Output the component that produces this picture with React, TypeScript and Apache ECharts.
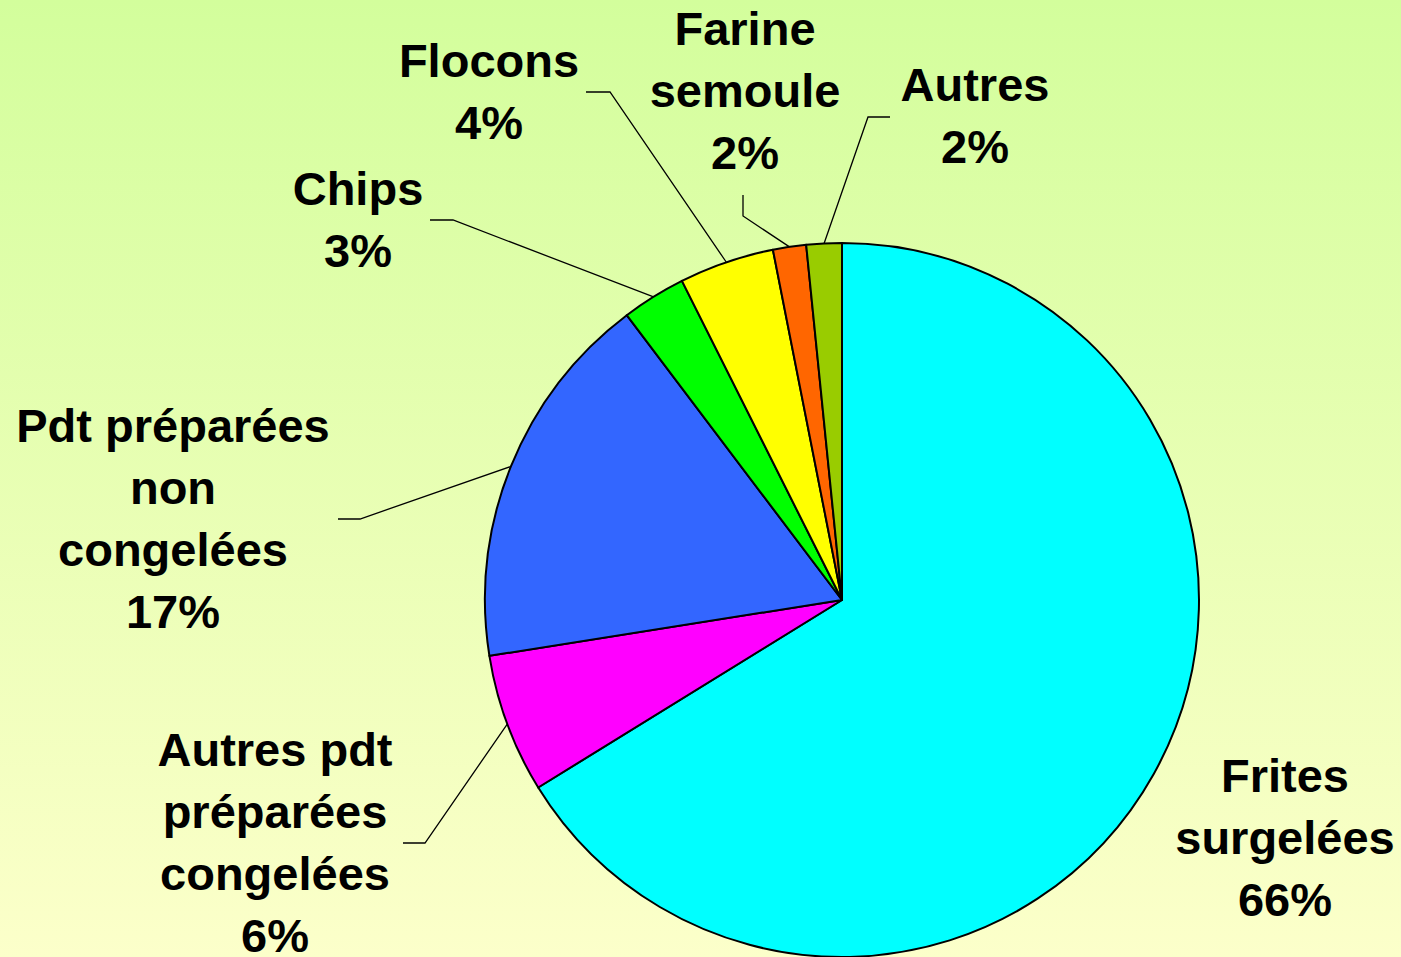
import React, { useEffect, useRef } from "react";
import * as echarts from "echarts";

const categories = [
  "Frites surgelées",
  "Autres pdt préparées congelées",
  "Pdt préparées non congelées",
  "Chips",
  "Flocons",
  "Farine semoule",
  "Autres",
];
const labelNames = [
  "Frites\nsurgelées",
  "Autres pdt\npréparées\ncongelées",
  "Pdt préparées\nnon\ncongelées",
  "Chips",
  "Flocons",
  "Farine\nsemoule",
  "Autres",
];
const values = [66.2, 6.3, 17.2, 2.9, 4.3, 1.5, 1.6];
const colors = ["#00ffff", "#ff00ff", "#3366ff", "#00ff00", "#ffff00", "#ff6600", "#99cc00"];

// label placement (styling)
const labelCenters: number[][] = [
  [1285, 837],
  [275, 842],
  [173, 518],
  [358, 219],
  [489, 91],
  [745, 90],
  [975, 115],
];
const labelElbows: (number[][] | null)[] = [
  null,
  [[425, 843], [403, 843]],
  [[360, 519], [338, 519]],
  [[453, 220], [430, 220]],
  [[610, 92], [586, 92]],
  [[743, 216], [743, 195]],
  [[868, 117], [890, 117]],
];

const CX = 842;
const CY = 600;
const R = 357;

export default function App() {
  const ref = useRef<HTMLDivElement>(null);
  useEffect(() => {
    document.body.style.margin = "0";
    const chart = echarts.init(ref.current!, undefined, { renderer: "svg" });
    const total = values.reduce((a, b) => a + b, 0);
    const edgePoint = (i: number) => {
      let cum = 0;
      for (let k = 0; k < i; k++) cum += values[k];
      const mid = ((cum + values[i] / 2) / total) * Math.PI * 2;
      return [CX + R * Math.sin(mid), CY - R * Math.cos(mid)];
    };
    chart.setOption({
      animation: false,
      backgroundColor: new echarts.graphic.LinearGradient(0, 0, 0, 1, [
        { offset: 0, color: "#d3fe9c" },
        { offset: 1, color: "#fcffca" },
      ]),
      series: [
        {
          type: "pie",
          center: [CX, CY],
          radius: R,
          startAngle: 90,
          clockwise: true,
          avoidLabelOverlap: false,
          itemStyle: { borderColor: "#000", borderWidth: 2 },
          label: {
            show: true,
            position: "outside",
            fontFamily: 'Arial, "Liberation Sans", sans-serif',
            fontWeight: "bold",
            fontSize: 47,
            lineHeight: 62,
            color: "#000",
            align: "center",
            formatter: (p: any) => `${labelNames[p.dataIndex]}\n${Math.round(p.percent)}%`,
          },
          labelLine: {
            show: true,
            length: 20,
            length2: 20,
            lineStyle: { color: "#000", width: 1.3 },
          },
          labelLayout: (params: any) => {
            const i = params.dataIndex;
            const c = labelCenters[i];
            const res: any = { x: c[0], y: c[1], align: "center", verticalAlign: "middle" };
            const elbow = labelElbows[i];
            if (elbow) {
              const start =
                params.labelLinePoints && params.labelLinePoints[0]
                  ? params.labelLinePoints[0]
                  : edgePoint(i);
              res.labelLinePoints = [start, elbow[0], elbow[1]];
            }
            return res;
          },
          data: categories.map((name, i) => ({
            name,
            value: values[i],
            itemStyle: { color: colors[i] },
            labelLine: { show: labelElbows[i] !== null },
          })),
        },
      ],
    });
    return () => chart.dispose();
  }, []);
  return <div ref={ref} style={{ width: 1401, height: 957 }} />;
}
